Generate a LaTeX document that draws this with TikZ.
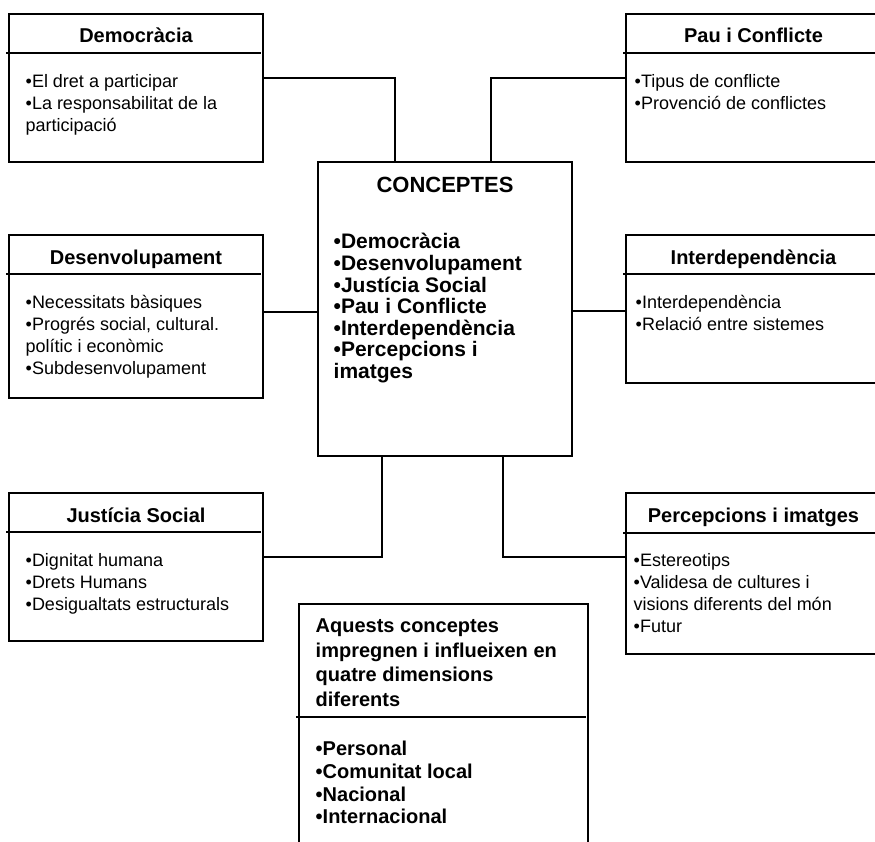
\documentclass[tikz,border=0pt]{standalone}
\usepackage{fontspec}
\setmainfont{Liberation Sans}
\usetikzlibrary{calc}

\begin{document}
\begin{tikzpicture}[x=1pt,y=-1pt,line width=1.4pt,
    cbox/.style={draw,rectangle,inner sep=0pt,outer sep=0pt,anchor=north west},
    ctitle/.style={anchor=base,inner sep=0pt,font=\fontsize{20}{24}\selectfont\bfseries},
    ctext/.style={anchor=north west,inner sep=0pt,align=left,font=\fontsize{18}{22}\selectfont}]
\useasboundingbox (0,0) rectangle (875,841);
\clip (0,0) rectangle (875,841);

\node[cbox,minimum width=254pt,minimum height=148pt] (demo) at (9,14) {};
\node[cbox,minimum width=255pt,minimum height=148pt] (pau) at (626,14) {};
\node[cbox,minimum width=254pt,minimum height=163pt] (desen) at (9,235) {};
\node[cbox,minimum width=255pt,minimum height=148pt] (inter) at (626,235) {};
\node[cbox,minimum width=254pt,minimum height=148pt] (just) at (9,493) {};
\node[cbox,minimum width=255pt,minimum height=161pt] (perc) at (626,493) {};
\node[cbox,minimum width=254pt,minimum height=294pt] (conc) at (318,162) {};
\node[cbox,minimum width=289pt,minimum height=260pt] (dim) at (299,604) {};

\node[ctitle] (demoT) at ($(demo.north)+(0,28)$) {Democràcia};
\node[ctitle] (pauT) at ($(pau.north)+(0,28)$) {Pau i Conflicte};
\node[ctitle] (desenT) at ($(desen.north)+(0,29)$) {Desenvolupament};
\node[ctitle] (interT) at ($(inter.north)+(0,29)$) {Interdependència};
\node[ctitle] (justT) at ($(just.north)+(0,29)$) {Justícia Social};
\node[ctitle] (percT) at ($(perc.north)+(0,29)$) {Percepcions i imatges};
\node[ctitle,font=\fontsize{22}{26}\selectfont\bfseries] (concT) at ($(conc.north)+(0,30)$) {CONCEPTES};

\foreach \b/\d in {demo/39,pau/39,desen/39,inter/39,just/39,perc/40,dim/113}
  \draw ($(\b.north west)+(-3,\d)$) -- ($(\b.north east)+(-2,\d)$);

\node[ctext] (demoB) at ($(demo.north west)+(16,57.6)$) {\strut•El dret a participar\\•La responsabilitat de la\\participació};
\node[ctext] (pauB) at ($(pau.north west)+(8,57.6)$) {\strut•Tipus de conflicte\\•Provenció de conflictes};
\node[ctext] (desenB) at ($(desen.north west)+(16,57.6)$) {\strut•Necessitats bàsiques\\•Progrés social, cultural.\\polític i econòmic\\•Subdesenvolupament};
\node[ctext] (interB) at ($(inter.north west)+(9,57.6)$) {\strut•Interdependència\\•Relació entre sistemes};
\node[ctext] (justB) at ($(just.north west)+(16,57.6)$) {\strut•Dignitat humana\\•Drets Humans\\•Desigualtats estructurals};
\node[ctext] (percB) at ($(perc.north west)+(7,57.6)$) {\strut•Estereotips\\•Validesa de cultures i\\visions diferents del món\\•Futur};

\node[ctext,font=\fontsize{21}{21.5}\selectfont\bfseries] (concB) at ($(conc.north west)+(15,70)$)
  {\strut•Democràcia\\•Desenvolupament\\•Justícia Social\\•Pau i Conflicte\\•Interdependència\\•Percepcions i\\imatges};
\node[ctext,font=\fontsize{20}{24.5}\selectfont\bfseries] (dimT) at ($(dim.north west)+(16,10.9)$)
  {\strut Aquests conceptes\\impregnen i influeixen en\\quatre dimensions\\diferents};
\node[ctext,font=\fontsize{20}{22.7}\selectfont\bfseries] (dimB) at ($(dim.north west)+(16,135.1)$)
  {\strut•Personal\\•Comunitat local\\•Nacional\\•Internacional};

\coordinate (demoO) at ($(demo.north east)+(0,64)$);
\coordinate (pauO) at ($(pau.north west)+(0,64)$);
\coordinate (desenO) at ($(desen.north east)+(0,77)$);
\coordinate (interO) at ($(inter.north west)+(0,76)$);
\coordinate (justO) at ($(just.north east)+(0,64)$);
\coordinate (percO) at ($(perc.north west)+(0,64)$);

\draw (demoO) -| ($(conc.north)+(-50,0)$);
\draw (pauO) -| ($(conc.north)+(46,0)$);
\draw (desenO) -- (desenO -| conc.west);
\draw (interO) -- (interO -| conc.east);
\draw (justO) -| ($(conc.south)+(-63,0)$);
\draw (percO) -| ($(conc.south)+(58,0)$);
\end{tikzpicture}
\end{document}
